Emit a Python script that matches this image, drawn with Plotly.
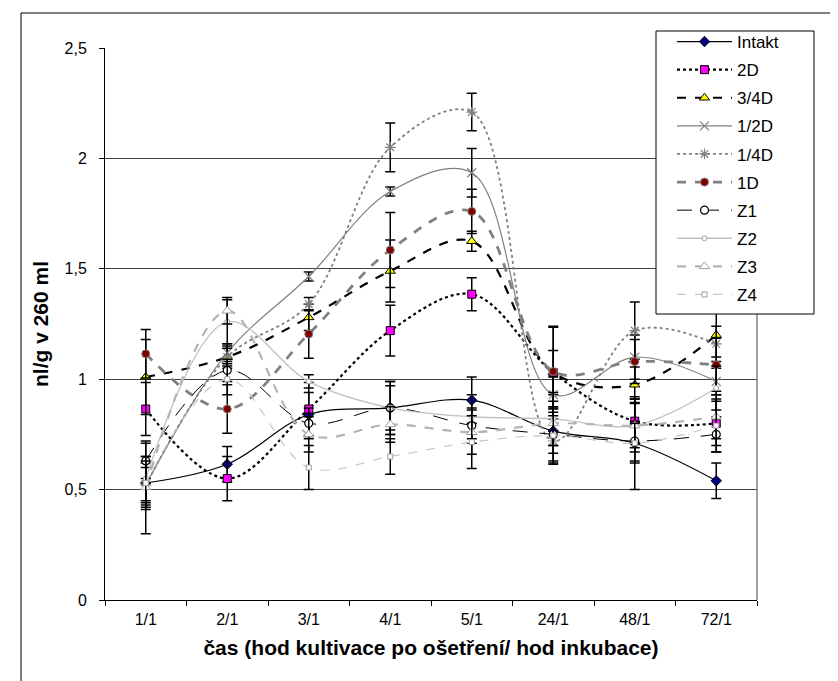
import plotly.graph_objects as go

categories = ["1/1", "2/1", "3/1", "4/1", "5/1", "24/1", "48/1", "72/1"]

intakt = [0.53, 0.615, 0.84, 0.87, 0.905, 0.765, 0.71, 0.54]
d2 = [0.865, 0.55, 0.865, 1.22, 1.385, 1.03, 0.81, 0.80]
d34 = [1.01, 1.10, 1.28, 1.49, 1.625, 1.03, 0.975, 1.20]
d12 = [0.52, 1.12, 1.465, 1.85, 1.935, 0.93, 1.10, 0.99]
d14 = [0.52, 1.10, 1.34, 2.05, 2.21, 0.72, 1.22, 1.16]
d1 = [1.115, 0.865, 1.205, 1.585, 1.76, 1.035, 1.08, 1.065]
z1 = [0.63, 1.04, 0.80, 0.87, 0.79, 0.75, 0.72, 0.75]
z2 = [0.55, 1.26, 0.99, 0.87, 0.83, 0.82, 0.79, 0.96]
z3 = [0.51, 1.31, 0.75, 0.795, 0.76, 0.80, 0.79, 0.83]
z4 = [0.53, 1.00, 0.60, 0.65, 0.715, 0.745, 0.71, 0.79]

err_intakt = [0.12, 0.08, 0.10, 0.12, 0.105, 0.10, 0.21, 0.08]
err_d2 = [0.12, 0.10, 0.12, 0.115, 0.075, 0.21, 0.10, 0.10]
err_d34 = [0.17, 0.05, 0.06, 0.14, 0.045, 0.10, 0.08, 0.10]
err_d12 = [0.10, 0.04, 0.02, 0.02, 0.11, 0.08, 0.10, 0.06]
err_d14 = [0.08, 0.04, 0.03, 0.11, 0.085, 0.10, 0.13, 0.08]
err_d1 = [0.11, 0.11, 0.11, 0.17, 0.10, 0.20, 0.10, 0.12]
err_z1 = [0.08, 0.05, 0.07, 0.10, 0.08, 0.12, 0.09, 0.08]
err_z2 = [0.10, 0.10, 0.03, 0.12, 0.10, 0.12, 0.10, 0.10]
err_z3 = [0.21, 0.06, 0.08, 0.08, 0.10, 0.10, 0.12, 0.10]
err_z4 = [0.10, 0.07, 0.10, 0.08, 0.12, 0.13, 0.09, 0.12]

series = [
    ("Intakt", intakt, err_intakt, dict(color="black", width=1.2, dash="solid"),
     dict(symbol="diamond", size=8, color="#000080", line=dict(color="black", width=1))),
    ("2D", d2, err_d2, dict(color="black", width=2.2, dash="dot"),
     dict(symbol="square", size=8, color="#FF00FF", line=dict(color="black", width=1))),
    ("3/4D", d34, err_d34, dict(color="black", width=2.2, dash="dash"),
     dict(symbol="triangle-up", size=9, color="#FFFF00", line=dict(color="black", width=1))),
    ("1/2D", d12, err_d12, dict(color="#808080", width=1.2, dash="solid"),
     dict(symbol="x-thin-open", size=9, color="#808080", line=dict(color="#808080", width=1.2))),
    ("1/4D", d14, err_d14, dict(color="#808080", width=1.8, dash="dot"),
     dict(symbol="asterisk-open", size=9, color="#808080", line=dict(color="#808080", width=1.2))),
    ("1D", d1, err_d1, dict(color="#808080", width=2.8, dash="dash"),
     dict(symbol="circle", size=8, color="#800000", line=dict(color="#808080", width=1))),
    ("Z1", z1, err_z1, dict(color="black", width=1, dash="15px,12px"),
     dict(symbol="circle", size=8, color="white", line=dict(color="black", width=1.2))),
    ("Z2", z2, err_z2, dict(color="#C0C0C0", width=1.3, dash="solid"),
     dict(symbol="circle", size=5, color="white", line=dict(color="#A0A0A0", width=1))),
    ("Z3", z3, err_z3, dict(color="#B4B4B4", width=2.2, dash="dash"),
     dict(symbol="triangle-up", size=9, color="white", line=dict(color="#A0A0A0", width=1))),
    ("Z4", z4, err_z4, dict(color="#C8C8C8", width=1.2, dash="dash"),
     dict(symbol="square", size=5, color="white", line=dict(color="#A0A0A0", width=1))),
]

fig = go.Figure()
for name, vals, errs, line, marker in series:
    fig.add_trace(go.Scatter(
        x=categories, y=vals, name=name, legendgroup=name,
        mode="lines+markers", line=dict(shape="spline", smoothing=1.0, **line),
        marker=marker,
        error_y=dict(type="data", array=errs, visible=True, color="black",
                     thickness=1.5, width=5),
    ))

font_family = "Liberation Sans, Arial, sans-serif"

# plot area in pixels: x 97..749, y 40..592
PL, PR, PT, PB = 97, 749, 40, 592
W, H = PR - PL, PB - PT


def px(x):
    return (x - PL) / W


def py(y):
    return (PB - y) / H


fig.update_layout(
    width=838, height=681,
    margin=dict(l=PL, r=838 - PR, t=PT, b=681 - PB),
    paper_bgcolor="white", plot_bgcolor="white",
    separators=", ",
    font=dict(family=font_family, size=16, color="black"),
    showlegend=True,
    legend=dict(
        x=px(664), y=py(16), xanchor="left", yanchor="top",
        bgcolor="rgba(0,0,0,0)", borderwidth=0,
        font=dict(size=17, family=font_family),
        itemwidth=55, tracegroupgap=3,
    ),
    xaxis=dict(
        type="category", showgrid=False, showline=True, linecolor="black", linewidth=1,
        ticks="outside", ticklen=5, tickcolor="black", tickson="boundaries",
        tickfont=dict(size=16), ticklabelstandoff=5,
        title=dict(text="<b>čas (hod kultivace po ošetření/ hod inkubace)</b>",
                   font=dict(size=21), standoff=13),
        range=[-0.5, 7.5], zeroline=False,
    ),
    yaxis=dict(
        range=[0, 2.5], dtick=0.5, showgrid=True, gridcolor="#404040", gridwidth=1,
        showline=True, linecolor="black", linewidth=1, zeroline=False,
        ticks="outside", ticklen=5, tickcolor="black", tickfont=dict(size=16),
        ticklabelstandoff=9,
        title=dict(text="<b>nl/g v 260 ml</b>", font=dict(size=21), standoff=10),
    ),
    shapes=[
        dict(type="line", xref="paper", yref="paper", x0=1, x1=1, y0=0, y1=1,
             line=dict(color="#808080", width=1.5)),
        dict(type="rect", xref="paper", yref="paper",
             x0=px(13), x1=px(830), y0=py(690), y1=py(5),
             line=dict(color="black", width=1), layer="below"),
        # legend box
        dict(type="rect", xref="paper", yref="paper",
             x0=px(648), x1=px(806), y0=py(306), y1=py(23),
             fillcolor="white", line=dict(color="black", width=1), layer="above"),
    ],
)

fig.write_html("out.html")
